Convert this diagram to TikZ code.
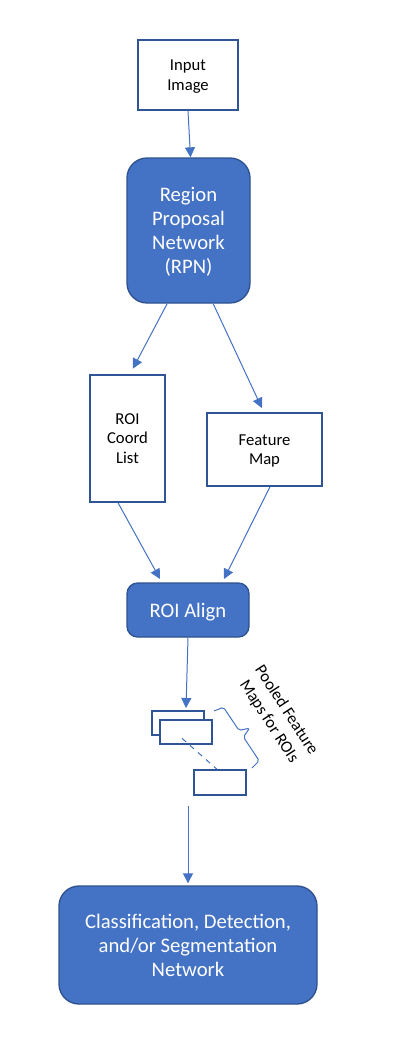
\documentclass[tikz,border=0pt]{standalone}
\usepackage{fontspec}
\setmainfont{Carlito}
\usetikzlibrary{positioning,arrows.meta,decorations.pathreplacing}
\definecolor{boxblue}{RGB}{68,114,196}
\definecolor{edgeblue}{RGB}{47,82,143}
\definecolor{lineblue}{RGB}{47,85,151}
\tikzset{
  plainbox/.style={draw=lineblue, line width=1.5pt, fill=white, align=center,
    font=\fontsize{12.5}{14.5}\selectfont, inner sep=0pt, text depth=0pt},
  netbox/.style={draw=edgeblue, line width=1pt, fill=boxblue, text=white, align=center,
    font=\fontsize{15.5}{18}\selectfont, inner sep=0pt, text depth=0pt},
  flow/.style={draw=boxblue, line width=0.75pt, -{Triangle[length=7.5pt,width=7.5pt]}}
}

\begin{document}
\begin{tikzpicture}[x=0.75pt,y=-0.75pt]
  \useasboundingbox (0,0) rectangle (400,1056);

  \node [plainbox, minimum width=75pt, minimum height=52.5pt] (input) at (188,75) {Input\\Image};
  \node [netbox, rounded corners=15pt, minimum width=92.25pt, minimum height=108.75pt] (rpn) at (188.5,230.5) {Region\\Proposal\\Network\\(RPN)};
  \node [plainbox, minimum width=56.25pt, minimum height=95.25pt] (coord) at (127.5,438.5) {ROI\\Coord\\List};
  \node [plainbox, minimum width=86.25pt, minimum height=54.75pt] (feature) at (264.5,449.5) {Feature\\Map};
  \node [netbox, rounded corners=8pt, minimum width=91.5pt, minimum height=40.5pt] (align) at (188,610) {ROI Align};

  % pooled maps
  \node [plainbox, minimum width=39pt, minimum height=18pt] (poolA) at (178,723) {};
  \node [plainbox, minimum width=39pt, minimum height=18pt] (poolB) at (186,732) {};
  \node [plainbox, minimum width=39pt, minimum height=18.75pt] (poolC) at (220,782.5) {};
  \coordinate (poolout) at (188,806);
  \draw [draw=boxblue, line width=0.75pt, dash pattern=on 4pt off 4pt] ([xshift=-3pt,yshift=5pt]poolB.south) -- ([xshift=-2.5pt]poolC.north);
  \draw [draw=boxblue, line width=0.75pt, rounded corners=1.5pt] (214,711) -- (223.4,707.2) -- (239,730.4) -- (249.5,728.2) -- (243.4,737) -- (259.2,760.8) -- (252,768);
  \node [font=\fontsize{12.5}{15.5}\selectfont, align=center, rotate=-57] (pooltext) at (277.5,716) {Pooled Feature\\Maps for ROIs};

  \node [netbox, rounded corners=15pt, minimum width=193.5pt, minimum height=88.5pt] (head) at (188,945) {Classification, Detection,\\and/or Segmentation\\Network};

  \draw [flow] (input.south) -- ([xshift=1.5pt]rpn.north);
  \draw [flow] ([xshift=-16pt]rpn.south) -- ([xshift=4pt,yshift=4pt]coord.north);
  \draw [flow] ([xshift=18.5pt]rpn.south) -- ([xshift=-2pt,yshift=3pt]feature.north);
  \draw [flow] ([xshift=-7pt]coord.south) -- ([xshift=-21pt,yshift=2.5pt]align.north);
  \draw [flow] ([xshift=4pt]feature.south) -- ([xshift=27pt,yshift=2.5pt]align.north);
  \draw [flow] (align.south) -- ([xshift=6pt,yshift=1.5pt]poolA.north);
  \draw [flow] (poolout) -- ([yshift=1.5pt]head.north);
\end{tikzpicture}
\end{document}
